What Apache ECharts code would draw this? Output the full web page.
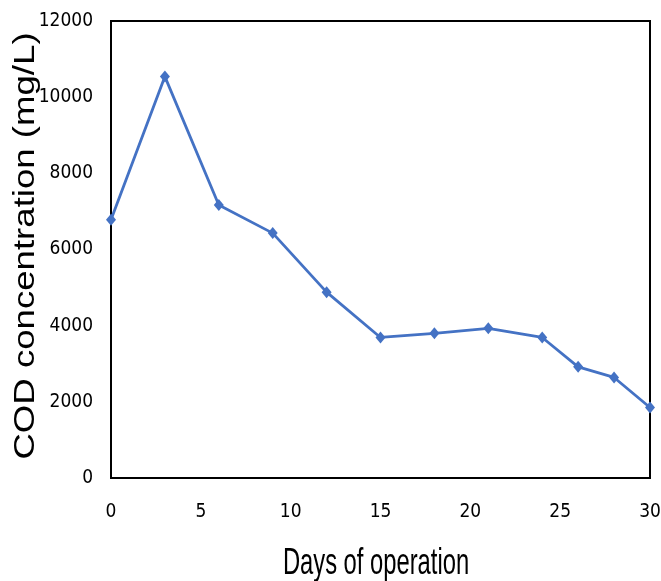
<!DOCTYPE html>
<html>
<head>
<meta charset="utf-8">
<script src="https://cdn.jsdelivr.net/npm/echarts@6/dist/echarts.min.js"></script>
<style>
  html, body { margin: 0; padding: 0; background: #fff; }
  #chart { width: 661px; height: 581px; }
</style>
</head>
<body>
<div id="chart"></div>
<script>
// Days of operation and measured COD values (mg/L)
const days = [0, 3, 6, 9, 12, 15, 18, 21, 24, 26, 28, 30];
const codValues = [6780, 10540, 7170, 6430, 4880, 3690, 3800, 3930, 3690, 2920, 2640, 1850];
const xTicks = [0, 5, 10, 15, 20, 25, 30];
const yTicks = [0, 2000, 4000, 6000, 8000, 10000, 12000];
const xTitle = 'Days of operation';
const yTitle = 'COD concentration (mg/L)';

const lineColor = '#4472C4';
const tickFont = '"DejaVu Sans Condensed", "Liberation Sans Narrow", sans-serif';

const chart = echarts.init(document.getElementById('chart'), null, { renderer: 'canvas' });

chart.setOption({
    backgroundColor: '#fff',
    animation: false,
    grid: {
        left: 111, right: 11, top: 21, bottom: 103,
        outerBoundsMode: 'none', containLabel: false,
        show: true, borderColor: '#000', borderWidth: 2
    },
    // axis titles: the original uses a squeezed / stretched type, so scale the text
    graphic: [
        {
            type: 'text',
            x: 376, y: 564,
            scaleX: 0.66,
            style: {
                text: xTitle,
                font: '36px "Liberation Sans", Arial, sans-serif',
                fill: '#000',
                align: 'center',
                verticalAlign: 'middle'
            }
        },
        {
            type: 'text',
            x: 26, y: 246,
            rotation: Math.PI / 2,
            scaleX: 1.22,
            style: {
                text: yTitle,
                font: '30px "Liberation Sans", Arial, sans-serif',
                fill: '#000',
                align: 'center',
                verticalAlign: 'middle'
            }
        }
    ],
    xAxis: {
        type: 'value',
        min: xTicks[0],
        max: xTicks[xTicks.length - 1],
        interval: xTicks[1] - xTicks[0],
        axisLine: { lineStyle: { color: '#000', width: 2 } },
        axisTick: { show: false },
        splitLine: { show: false },
        axisLabel: { fontFamily: tickFont, fontSize: 19, color: '#000', margin: 25, formatter: v => String(v) }
    },
    yAxis: {
        type: 'value',
        min: yTicks[0],
        max: yTicks[yTicks.length - 1],
        interval: yTicks[1] - yTicks[0],
        axisLine: { show: true, lineStyle: { color: '#000', width: 2 } },
        axisTick: { show: false },
        splitLine: { show: false },
        axisLabel: { fontFamily: tickFont, fontSize: 19, color: '#000', margin: 18, formatter: v => String(v) }
    },
    series: [{
        type: 'line',
        data: days.map((d, i) => [d, codValues[i]]),
        symbol: 'diamond',
        symbolSize: [10, 12],
        lineStyle: { color: lineColor, width: 2.8 },
        itemStyle: { color: lineColor },
        clip: false
    }]
});
</script>
</body>
</html>
